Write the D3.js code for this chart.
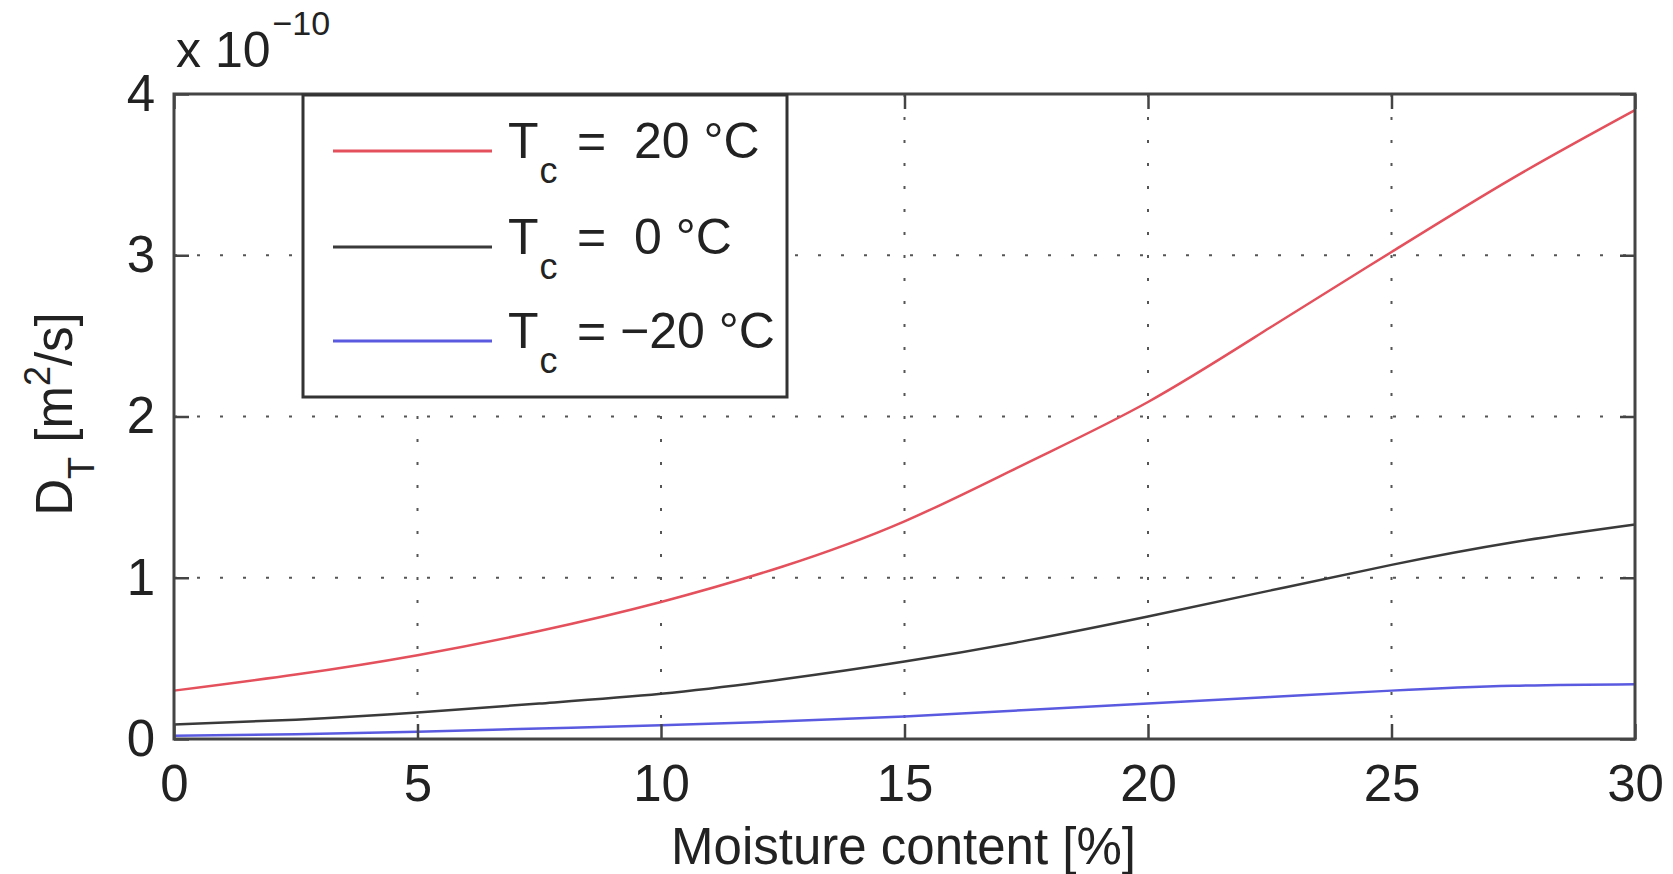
<!DOCTYPE html>
<html>
<head>
<meta charset="utf-8">
<script src="https://cdn.jsdelivr.net/npm/d3@7"></script>
<style>
  body { margin: 0; background: #fff; }
  text { font-family: "Liberation Sans", Arial, sans-serif; fill: #222; }
</style>
</head>
<body>
<div id="app"></div>
<script>
// moisture content [%]
const moisture = [0, 2.5, 5, 7.5, 10, 12.5, 15, 17.5, 20, 22.5, 25, 27.5, 30]
// D_T values in units of 1e-10 m^2/s
const dt_plus20 = [0.30, 0.40, 0.52, 0.67, 0.85, 1.07, 1.35, 1.71, 2.09, 2.55, 3.02, 3.48, 3.90]
const dt_zero = [0.09, 0.12, 0.165, 0.22, 0.28, 0.37, 0.48, 0.61, 0.76, 0.92, 1.08, 1.22, 1.33]
const dt_minus20 = [0.02, 0.03, 0.045, 0.065, 0.085, 0.11, 0.14, 0.18, 0.22, 0.26, 0.30, 0.33, 0.34]

const series_labels = ["=  20 °C", "=  0 °C", "= −20 °C"]
const series_colors = ["#e4505c", "#3a3a3a", "#5a5ae0"]
const x_ticks = [0, 5, 10, 15, 20, 25, 30]
const y_ticks = [0, 1, 2, 3, 4]

const make_plot = (root_node) => {
   let width = 1673
   let height = 874
   let left = 174, right = 1635, top = 94, bottom = 739
   let axis_color = "#444"
   let font_size = 51

   let svg = d3.select(root_node)
      .append("svg")
      .attr("width", width)
      .attr("height", height)

   let x = d3.scaleLinear().domain([0, 30]).range([left, right])
   let y = d3.scaleLinear().domain([0, 4]).range([bottom, top])

   // grid
   let grid = svg.append("g")
      .attr("stroke", "#555")
      .attr("stroke-width", 2)
      .attr("stroke-dasharray", "3,20")
   grid.selectAll(".vg")
      .data(x_ticks.slice(1, -1))
      .join("line")
      .attr("x1", d => x(d)).attr("x2", d => x(d))
      .attr("y1", top).attr("y2", bottom)
   grid.selectAll(".hg")
      .data(y_ticks.slice(1, -1))
      .join("line")
      .attr("y1", d => y(d)).attr("y2", d => y(d))
      .attr("x1", left).attr("x2", right)

   // curves
   let line = d3.line()
      .x((d, i) => x(moisture[i]))
      .y(d => y(d))
      .curve(d3.curveNatural)

   let all_series = [dt_plus20, dt_zero, dt_minus20]
   svg.append("g")
      .selectAll("path")
      .data(all_series)
      .join("path")
      .attr("d", d => line(d))
      .attr("fill", "none")
      .attr("stroke", (d, i) => series_colors[i])
      .attr("stroke-width", 2.5)

   // axes with inward ticks
   let style_axis = g => {
      g.select(".domain").remove()
      g.selectAll("line").attr("stroke", axis_color).attr("stroke-width", 2.5)
      g.selectAll("text")
         .attr("font-size", font_size)
         .attr("font-family", "Liberation Sans, Arial, sans-serif")
         .attr("fill", "#222")
   }

   svg.append("g")
      .attr("transform", `translate(0,${bottom})`)
      .call(d3.axisBottom(x).tickValues(x_ticks).tickSizeInner(-15).tickSizeOuter(0).tickPadding(26))
      .call(style_axis)
   svg.append("g")
      .attr("transform", `translate(0,${top})`)
      .call(d3.axisTop(x).tickValues(x_ticks).tickSizeInner(-15).tickSizeOuter(0).tickFormat(""))
      .call(style_axis)
   svg.append("g")
      .attr("transform", `translate(${left},0)`)
      .call(d3.axisLeft(y).tickValues(y_ticks).tickFormat(d3.format("d")).tickSizeInner(-15).tickSizeOuter(0).tickPadding(19))
      .call(style_axis)
   svg.append("g")
      .attr("transform", `translate(${right},0)`)
      .call(d3.axisRight(y).tickValues(y_ticks).tickSizeInner(-15).tickSizeOuter(0).tickFormat(""))
      .call(style_axis)

   // box
   svg.append("rect")
      .attr("x", left).attr("y", top)
      .attr("width", right - left).attr("height", bottom - top)
      .attr("fill", "none")
      .attr("stroke", axis_color)
      .attr("stroke-width", 3)

   // exponent
   let expo = svg.append("text")
      .attr("x", 176).attr("y", 67)
      .attr("font-size", 50)
   expo.append("tspan").text("x 10")
   expo.append("tspan").attr("font-size", 34).attr("dy", -32).attr("dx", 2).text("−10")

   // axis labels
   svg.append("text")
      .attr("x", (left + right) / 2 - 1)
      .attr("y", 864)
      .attr("text-anchor", "middle")
      .attr("font-size", font_size)
      .text("Moisture content [%]")

   let ylab = svg.append("text")
      .attr("transform", "translate(72,414) rotate(-90)")
      .attr("text-anchor", "middle")
      .attr("font-size", font_size)
   ylab.append("tspan").text("D")
   ylab.append("tspan").attr("font-size", 36).attr("dy", 22).text("T")
   ylab.append("tspan").attr("dy", -22).text(" [m")
   ylab.append("tspan").attr("font-size", 36).attr("dy", -22).text("2")
   ylab.append("tspan").attr("dy", 22).text("/s]")

   // legend
   let legend = svg.append("g")
   legend.append("rect")
      .attr("x", 303).attr("y", 95)
      .attr("width", 484).attr("height", 302)
      .attr("fill", "#fff")
      .attr("stroke", "#333")
      .attr("stroke-width", 3)

   let row_y = [151, 247, 341]
   let item = legend.selectAll(".item")
      .data(series_labels)
      .join("g")
      .attr("transform", (d, i) => `translate(0,${row_y[i]})`)
   item.append("line")
      .attr("x1", 333).attr("x2", 492)
      .attr("stroke", (d, i) => series_colors[i])
      .attr("stroke-width", 3)
   let lt = item.append("text")
      .attr("x", 508).attr("y", 7)
      .attr("font-size", 50)
      .style("white-space", "pre")
   lt.append("tspan").text("T")
   lt.append("tspan").attr("font-size", 36).attr("dy", 25).attr("dx", 1).text("c")
   lt.append("tspan").attr("x", 577).attr("dy", -25).text(d => d)
}

make_plot("#app")
</script>
</body>
</html>
